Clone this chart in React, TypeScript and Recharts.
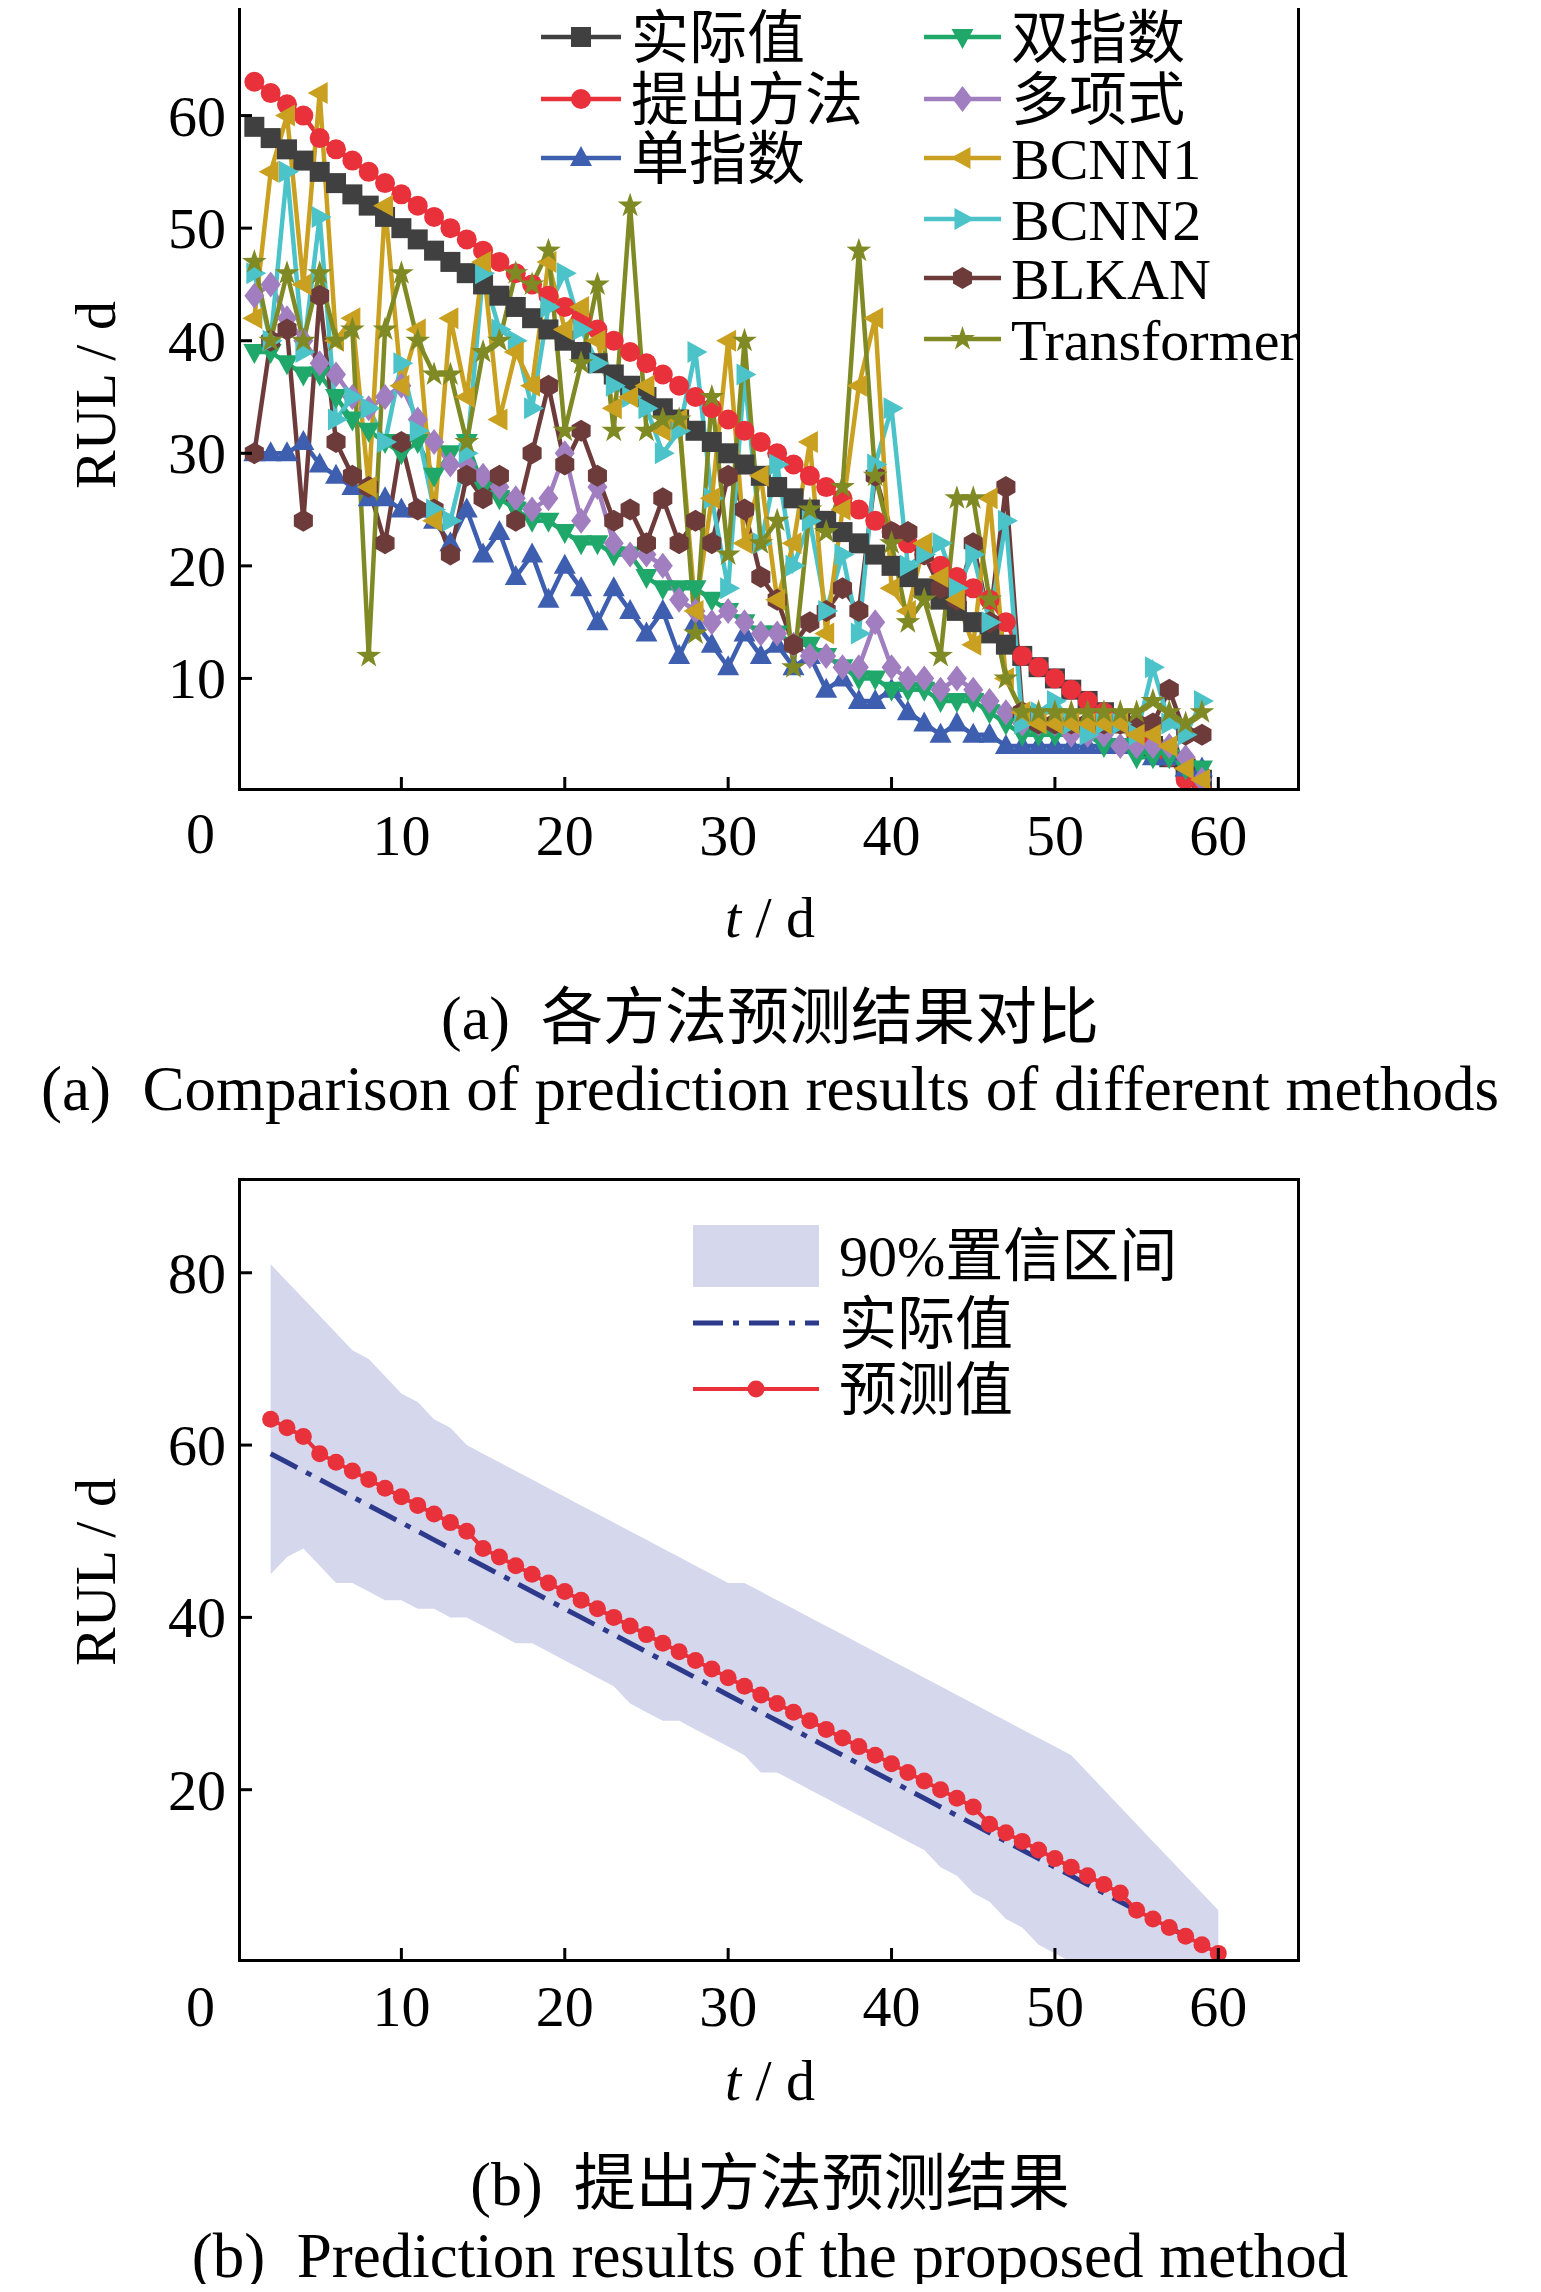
import React from "react";
import { ComposedChart, Line, Area, XAxis, YAxis } from "recharts";

const tTop = Array.from({ length: 59 }, (_, i) => i + 1);
const actual = [59,58,57,56,55,54,53,52,51,50,49,48,47,46,45,44,43,42,41,40,39,38,37,36,35,34,33,32,31,30,29,28,27,26,25,24,23,22,21,20,19,18,17,16,15,14,13,12,11,10,9,8,7,6,5,4,3,2,1];
const proposed = [63,62,61,60,58,57,56,55,54,53,52,51,50,49,48,47,46,45,44,43,42,41,40,39,38,37,36,35,34,33,32,31,30,29,28,27,26,25,24,23,22,21,20,19,18,17,15,12,11,10,9,8,7,6,5,4,3,1,0];
const singleExp = [30,30,30,31,29,28,27,26,26,25,25,24,22,25,21,23,19,21,17,20,18,15,18,16,14,16,12,15,13,11,14,12,13,11,12,9,10,8,8,9,7,6,5,6,5,5,4,4,4,4,4,4,4,4,4,3,3,2,2];
const doubleExp = [39,39,38,37,37,35,33,32,31,30,31,28,30,31,27,26,25,24,24,23,22,22,21,21,19,18,18,18,17,16,15,14,14,13,13,12,11,10,10,9,9,9,8,8,8,7,6,5,5,5,5,5,4,4,3,3,3,2,2];
const poly = [44,45,42,40,38,37,35,34,35,36,33,31,29,29,28,27,26,25,26,30,24,27,22,21,21,20,17,16,15,16,15,14,14,13,12,12,11,11,15,11,10,10,9,10,9,8,7,6,6,6,5,5,5,4,4,4,4,3,1];
const bcnn1 = [42,55,60,45,62,40,42,27,52,36,41,24,42,35,47,33,39,36,47,41,43,40,34,35,36,32,33,16,26,40,22,28,17,22,31,14,25,36,42,18,16,22,19,17,13,26,10,7,6,6,6,6,6,6,5,5,4,2,1];
const bcnn2 = [46,40,55,39,51,33,35,34,31,38,32,25,24,30,46,41,40,34,43,46,41,38,36,35,34,30,32,39,26,18,37,22,29,20,24,16,21,14,29,34,20,21,22,18,21,15,24,6,7,8,6,5,6,6,5,11,6,5,8];
const blkan = [30,40,41,24,44,31,28,27,22,31,25,25,21,28,26,28,24,30,36,29,32,28,24,25,22,26,22,24,22,28,25,19,17,13,15,16,18,16,28,23,23,21,18,17,22,15,27,7,6,6,6,6,6,6,6,6,9,5,5];
const transformer = [47,40,46,40,46,40,41,12,41,46,40,37,37,31,39,40,46,45,48,32,38,45,32,52,32,33,33,14,35,21,40,22,24,11,25,23,27,48,28,22,15,17,12,26,26,17,10,7,7,7,7,7,7,7,7,8,7,6,7];

const tBot = Array.from({ length: 59 }, (_, i) => i + 2);
const predBot = [63,62,61,59,58,57,56,55,54,53,52,51,50,48,47,46,45,44,43,42,41,40,39,38,37,36,35,34,33,32,31,30,29,28,27,26,25,24,23,22,21,20,19,18,16,15,14,13,12,11,10,9,8,6,5,4,3,2,1];
const actBot = [59,58,57,56,55,54,53,52,51,50,49,48,47,46,45,44,43,42,41,40,39,38,37,36,35,34,33,32,31,30,29,28,27,26,25,24,23,22,21,20,19,18,17,16,15,14,13,12,11,10,9,8,7,6,5,4,3,2,1];
const bandHi = [81,79,77,75,73,71,70,68,66,65,63,62,60,59,58,57,56,55,54,53,52,51,50,49,48,47,46,45,44,44,43,42,41,40,39,38,37,36,35,34,33,32,31,30,29,28,27,26,25,24,22,20,18,16,14,12,10,8,6];
const bandLo = [45,47,48,46,44,44,43,42,42,41,41,40,40,39,38,37,37,36,35,34,33,32,30,29,28,28,27,26,25,24,22,22,21,20,19,18,17,16,15,14,13,11,10,8,7,5,4,2,1,0,0,0,0,0,0,0,0,0,0];

const xTicks = [10, 20, 30, 40, 50, 60];
const yTicksTop = [10, 20, 30, 40, 50, 60];
const yTicksBot = [20, 40, 60, 80];

const topData = tTop.map((t, i) => ({ t, actual: actual[i], proposed: proposed[i], singleExp: singleExp[i], doubleExp: doubleExp[i], poly: poly[i], bcnn1: bcnn1[i], bcnn2: bcnn2[i], blkan: blkan[i], transformer: transformer[i] }));
const botData = tBot.map((t, i) => ({ t, pred: predBot[i], act: actBot[i], band: [bandLo[i], bandHi[i]] }));

const SERIF = "'Liberation Serif','Times New Roman',serif";
const CJK = "'Liberation Serif','Noto Sans CJK SC',serif";
const FS = 58;

const Marker = ({ type, cx, cy, color, s = 11 }: any) => {
  if (cx == null || cy == null) return null;
  const p = (pts: number[][]) => pts.map((q) => `${cx + q[0]},${cy + q[1]}`).join(" ");
  switch (type) {
    case "square": return <rect x={cx - s} y={cy - s} width={2 * s} height={2 * s} fill={color} />;
    case "circle": return <circle cx={cx} cy={cy} r={s} fill={color} />;
    case "up": return <polygon points={p([[0, -s * 1.2], [s * 1.1, s * 0.8], [-s * 1.1, s * 0.8]])} fill={color} />;
    case "down": return <polygon points={p([[0, s * 1.2], [s * 1.1, -s * 0.8], [-s * 1.1, -s * 0.8]])} fill={color} />;
    case "diamond": return <polygon points={p([[0, -s * 1.3], [s, 0], [0, s * 1.3], [-s, 0]])} fill={color} />;
    case "left": return <polygon points={p([[-s * 1.2, 0], [s * 0.8, -s * 1.1], [s * 0.8, s * 1.1]])} fill={color} />;
    case "right": return <polygon points={p([[s * 1.2, 0], [-s * 0.8, -s * 1.1], [-s * 0.8, s * 1.1]])} fill={color} />;
    case "hex": { const pts = []; for (let k = 0; k < 6; k++) { const a = Math.PI / 6 + (k * Math.PI) / 3; pts.push([Math.cos(a) * s * 1.1, Math.sin(a) * s * 1.1]); } return <polygon points={p(pts)} fill={color} />; }
    case "star": { const pts = []; for (let k = 0; k < 10; k++) { const r = k % 2 === 0 ? s * 1.3 : s * 0.5; const a = -Math.PI / 2 + (k * Math.PI) / 5; pts.push([Math.cos(a) * r, Math.sin(a) * r]); } return <polygon points={p(pts)} fill={color} />; }
  }
  return null;
};

const seriesTop = [
  { key: "actual", name: "实际值", color: "#404040", m: "square" },
  { key: "proposed", name: "提出方法", color: "#e8313a", m: "circle" },
  { key: "singleExp", name: "单指数", color: "#3e5fb0", m: "up" },
  { key: "doubleExp", name: "双指数", color: "#1fa86a", m: "down" },
  { key: "poly", name: "多项式", color: "#a07ec0", m: "diamond" },
  { key: "bcnn1", name: "BCNN1", color: "#c9a020", m: "left" },
  { key: "bcnn2", name: "BCNN2", color: "#4bc3c9", m: "right" },
  { key: "blkan", name: "BLKAN", color: "#6e3b3b", m: "hex" },
  { key: "transformer", name: "Transformer", color: "#808a24", m: "star" },
];
const drawOrder = ["actual", "proposed", "singleExp", "doubleExp", "poly", "blkan", "bcnn2", "bcnn1", "transformer"];

const PL = 238, PR = 1300;
const TOP_T = 3, TOP_B = 791;
const BOT_T = 1178, BOT_B = 1962;

const makeXTick = (bottom: number) => (props: any) => {
  const { x, payload } = props;
  return (
    <g>
      <line x1={x} x2={x} y1={bottom} y2={bottom - 14} stroke="#000" strokeWidth={3} />
      <text x={x} y={bottom + 64} textAnchor="middle" fontFamily={SERIF} fontSize={FS} fill="#000">{payload.value}</text>
    </g>
  );
};
const makeYTick = () => (props: any) => {
  const { y, payload } = props;
  return (
    <g>
      <line x1={PL} x2={PL + 14} y1={y} y2={y} stroke="#000" strokeWidth={3} />
      <text x={PL - 12} y={y + 20} textAnchor="end" fontFamily={SERIF} fontSize={FS} fill="#000">{payload.value}</text>
    </g>
  );
};

const abs = (x: number, y: number, extra: any = {}) => ({ position: "absolute" as const, left: x, top: y, ...extra });

export default function App() {
  const W = 1541;
  const legendRowsY = [37, 99, 158, 219, 278, 339];
  return (
    <div style={{ position: "relative", width: 1541, height: 2292, margin: -8, background: "#fff", overflow: "hidden" }}>
      <div style={abs(0, 0)}>
        <ComposedChart width={W} height={900} data={topData} margin={{ top: TOP_T, bottom: 0, left: PL - 60, right: W - PR }}>
          <XAxis dataKey="t" type="number" domain={[0, 65]} ticks={xTicks} tick={makeXTick(TOP_B)} tickLine={false} axisLine={false} height={900 - TOP_B} allowDataOverflow />
          <YAxis type="number" domain={[0, 70]} ticks={yTicksTop} tick={makeYTick()} tickLine={false} axisLine={false} width={60} interval={0} allowDataOverflow />
          {drawOrder.map((k) => {
            const s = seriesTop.find((q) => q.key === k)!;
            return (
              <Line key={k} dataKey={k} type="linear" stroke={s.color} strokeWidth={4.5} isAnimationActive={false}
                dot={(p: any) => <Marker key={p.index} type={s.m} cx={p.cx} cy={p.cy} color={s.color} s={10} />} activeDot={false} />
            );
          })}
        </ComposedChart>
      </div>
      <div style={abs(PL, TOP_T, { width: PR - PL, height: TOP_B - TOP_T, border: "3px solid #000", boxSizing: "border-box" })} />
      <svg style={abs(0, 0)} width={W} height={800}>
        {seriesTop.map((s, i) => {
          const col = i < 3 ? 0 : 1;
          const row = i < 3 ? i : i - 3;
          const x1 = col === 0 ? 541 : 924;
          const x2 = col === 0 ? 621 : 1001;
          const y = legendRowsY[row];
          return (
            <g key={s.key}>
              <line x1={x1} x2={x2} y1={y} y2={y} stroke={s.color} strokeWidth={4.5} />
              <Marker type={s.m} cx={(x1 + x2) / 2} cy={y} color={s.color} s={10} />
              <text x={x2 + 10} y={y + 21} fontFamily={CJK} fontSize={58} fill="#000">{s.name}</text>
            </g>
          );
        })}
      </svg>
      <div style={abs(186, 805, { fontFamily: SERIF, fontSize: FS, lineHeight: "1" })}>0</div>
      <div style={abs(95, 395, { fontFamily: SERIF, fontSize: FS, transform: "translate(-50%,-50%) rotate(-90deg)", whiteSpace: "nowrap" })}>RUL / d</div>
      <div style={abs(770, 917, { fontFamily: SERIF, fontSize: FS, transform: "translate(-50%,-50%)", whiteSpace: "nowrap" })}><i>t</i> / d</div>
      <div style={abs(770, 1012, { fontFamily: CJK, fontSize: 62, transform: "translate(-50%,-50%)", whiteSpace: "nowrap" })}>(a)&nbsp;&nbsp;各方法预测结果对比</div>
      <div style={abs(770, 1089, { fontFamily: SERIF, fontSize: 63, transform: "translate(-50%,-50%)", whiteSpace: "nowrap" })}>(a)&nbsp;&nbsp;Comparison of prediction results of different methods</div>

      <div style={abs(0, 1100)}>
        <ComposedChart width={W} height={980} data={botData} margin={{ top: BOT_T - 1100, bottom: 0, left: PL - 60, right: W - PR }}>
          <XAxis dataKey="t" type="number" domain={[0, 65]} ticks={xTicks} tick={makeXTick(BOT_B - 1100)} tickLine={false} axisLine={false} height={2080 - BOT_B} allowDataOverflow />
          <YAxis type="number" domain={[0, 91]} ticks={yTicksBot} tick={makeYTick()} tickLine={false} axisLine={false} width={60} interval={0} allowDataOverflow />
          <Area dataKey="band" type="linear" fill="#d5d7ec" fillOpacity={1} stroke="none" isAnimationActive={false} activeDot={false} />
          <Line dataKey="act" type="linear" stroke="#2d3a8c" strokeWidth={5} strokeDasharray="30 10 6 10" dot={false} isAnimationActive={false} activeDot={false} />
          <Line dataKey="pred" type="linear" stroke="#e8313a" strokeWidth={4} isAnimationActive={false} activeDot={false}
            dot={(p: any) => <Marker key={p.index} type="circle" cx={p.cx} cy={p.cy} color="#e8313a" s={8.5} />} />
        </ComposedChart>
      </div>
      <div style={abs(PL, BOT_T, { width: PR - PL, height: BOT_B - BOT_T, border: "3px solid #000", boxSizing: "border-box" })} />
      <svg style={abs(0, 1180)} width={W} height={260}>
        <rect x={693} y={45} width={126} height={62} fill="#d5d7ec" />
        <text x={839} y={96} fontFamily={CJK} fontSize={58}>90%置信区间</text>
        <line x1={693} x2={819} y1={143} y2={143} stroke="#2d3a8c" strokeWidth={5} strokeDasharray="30 10 6 10" />
        <text x={839} y={164} fontFamily={CJK} fontSize={58}>实际值</text>
        <line x1={693} x2={819} y1={209} y2={209} stroke="#e8313a" strokeWidth={4} />
        <circle cx={756} cy={209} r={8.5} fill="#e8313a" />
        <text x={839} y={230} fontFamily={CJK} fontSize={58}>预测值</text>
      </svg>
      <div style={abs(186, 1978, { fontFamily: SERIF, fontSize: FS, lineHeight: "1" })}>0</div>
      <div style={abs(95, 1572, { fontFamily: SERIF, fontSize: FS, transform: "translate(-50%,-50%) rotate(-90deg)", whiteSpace: "nowrap" })}>RUL / d</div>
      <div style={abs(770, 2080, { fontFamily: SERIF, fontSize: FS, transform: "translate(-50%,-50%)", whiteSpace: "nowrap" })}><i>t</i> / d</div>
      <div style={abs(770, 2178, { fontFamily: CJK, fontSize: 62, transform: "translate(-50%,-50%)", whiteSpace: "nowrap" })}>(b)&nbsp;&nbsp;提出方法预测结果</div>
      <div style={abs(770, 2256, { fontFamily: SERIF, fontSize: 63, transform: "translate(-50%,-50%)", whiteSpace: "nowrap" })}>(b)&nbsp;&nbsp;Prediction results of the proposed method</div>
    </div>
  );
}
